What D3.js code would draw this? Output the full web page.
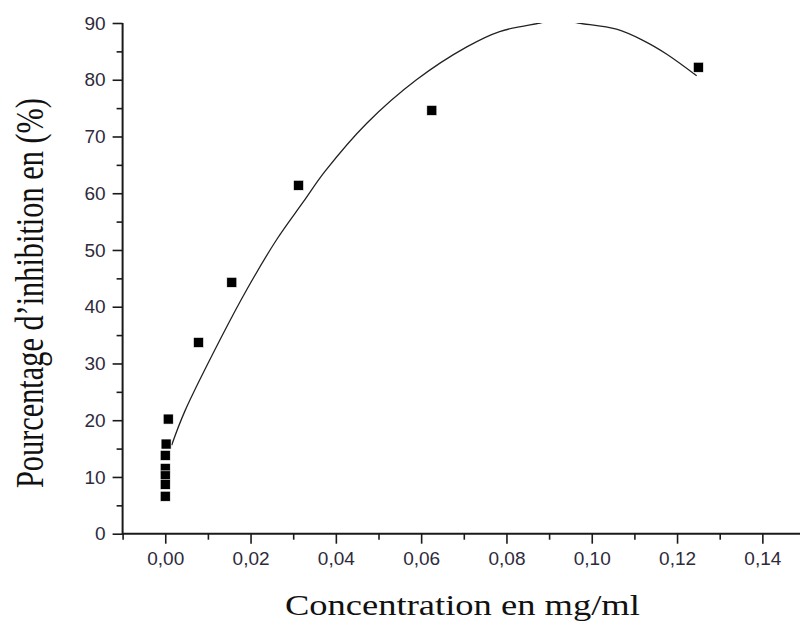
<!DOCTYPE html>
<html>
<head>
<meta charset="utf-8">
<script src="https://cdn.jsdelivr.net/npm/d3@7"></script>
<style>
  body { margin: 0; background: #fff; }
  svg { display: block; }
  .tick text { font-family: 'Liberation Sans', Arial, sans-serif; font-size: 19px; fill: #2e2a3c; }
</style>
</head>
<body>
<div id="chart"></div>
<script>
const svgWidth = 800;
const svgHeight = 623;

// measured points (concentration mg/ml, % inhibition)
const concentration = [0.125, 0.0625, 0.03125, 0.0156, 0.0078, 0.0007, 0.0002, 0, 0, 0, 0, 0];
const inhibition = [82.2, 74.6, 61.4, 44.3, 33.7, 20.2, 15.8, 13.8, 11.5, 10.2, 8.7, 6.6];

// fitted curve (it leaves the frame above 90)
const fitX = [0.0015, 0.0046, 0.0132, 0.0191, 0.0261, 0.0324, 0.0374, 0.0472, 0.0589, 0.0707, 0.0784, 0.0879, 0.0922, 0.0968, 0.1058, 0.1121, 0.1176, 0.1246];
const fitY = [15.6, 21.6, 34.7, 43.0, 51.8, 58.5, 63.8, 72.3, 80.0, 85.8, 88.5, 90.0, 90.6, 90.0, 88.9, 86.9, 84.5, 80.7];

const xMajor = [0, 0.02, 0.04, 0.06, 0.08, 0.10, 0.12, 0.14];
const xMinor = [-0.01, 0.01, 0.03, 0.05, 0.07, 0.09, 0.11, 0.13];
const yMajor = [0, 10, 20, 30, 40, 50, 60, 70, 80, 90];
const yMinor = [5, 15, 25, 35, 45, 55, 65, 75, 85];

const xTitle = "Concentration en mg/ml";
const yTitle = "Pourcentage d\u2019inhibition en (%)";

const svg = d3.select("#chart")
  .append("svg")
    .attr("width", svgWidth)
    .attr("height", svgHeight);

const x = d3.scaleLinear()
  .domain([-0.01, 0.15])
  .range([122.6, 805]);

const y = d3.scaleLinear()
  .domain([0, 90])
  .range([533.7, 23]);

const inkColor = "#1a1a1a";
const commaFmt = d => d3.format(".2f")(d).replace(".", ",");

// x axis: major ticks with labels, minor ticks without
svg.append("g")
  .attr("transform", `translate(0, ${y(0)})`)
  .call(d3.axisBottom(x).tickValues(xMajor).tickSize(10).tickPadding(8).tickFormat(commaFmt))
  .call(g => g.select(".domain").remove())
  .call(g => g.selectAll(".tick line").attr("stroke", inkColor).attr("stroke-width", 1.6));

svg.append("g")
  .attr("transform", `translate(0, ${y(0)})`)
  .call(d3.axisBottom(x).tickValues(xMinor).tickSize(6).tickFormat(""))
  .call(g => g.select(".domain").remove())
  .call(g => g.selectAll(".tick line").attr("stroke", inkColor).attr("stroke-width", 1.6));

// y axis
svg.append("g")
  .attr("transform", `translate(${x(-0.01)}, 0)`)
  .call(d3.axisLeft(y).tickValues(yMajor).tickSize(10).tickPadding(7))
  .call(g => g.select(".domain").remove())
  .call(g => g.selectAll(".tick line").attr("stroke", inkColor).attr("stroke-width", 1.6));

svg.append("g")
  .attr("transform", `translate(${x(-0.01)}, 0)`)
  .call(d3.axisLeft(y).tickValues(yMinor).tickSize(6).tickFormat(""))
  .call(g => g.select(".domain").remove())
  .call(g => g.selectAll(".tick line").attr("stroke", inkColor).attr("stroke-width", 1.6));

// axis lines
svg.append("line")
  .attr("x1", x(-0.01)).attr("x2", x(0.15))
  .attr("y1", y(0)).attr("y2", y(0))
  .attr("stroke", inkColor).attr("stroke-width", 2);
svg.append("line")
  .attr("x1", x(-0.01)).attr("x2", x(-0.01))
  .attr("y1", y(0) + 1).attr("y2", y(90))
  .attr("stroke", inkColor).attr("stroke-width", 2);

// clip the curve to the plot area
svg.append("clipPath")
    .attr("id", "plotClip")
  .append("rect")
    .attr("x", x(-0.01))
    .attr("y", y(90))
    .attr("width", x(0.15) - x(-0.01))
    .attr("height", y(0) - y(90));

const fitPoints = fitX.map((v, i) => [x(v), y(fitY[i])]);
svg.append("path")
  .attr("clip-path", "url(#plotClip)")
  .attr("fill", "none")
  .attr("stroke", "#222")
  .attr("stroke-width", 1.3)
  .attr("d", d3.line().curve(d3.curveCatmullRom.alpha(0.5))(fitPoints));

// square markers
const size = 10;
svg.append("g")
  .selectAll("rect")
  .data(concentration.map((c, i) => ({c: c, v: inhibition[i]})))
  .join("rect")
    .attr("x", d => x(d.c) - size / 2)
    .attr("y", d => y(d.v) - size / 2)
    .attr("width", size)
    .attr("height", size)
    .attr("fill", "#000")
    .attr("stroke", "#fff")
    .attr("stroke-width", 0.6);

// titles: the original glyphs are stretched, so scale each text to its measured length
function stretchedTitle(label, fontSize, tx, ty, angle, length) {
  const t = svg.append("text")
    .attr("font-family", "'Liberation Serif', 'Times New Roman', serif")
    .attr("font-size", fontSize)
    .attr("fill", "#111")
    .text(label);
  const natural = t.node().getComputedTextLength();
  t.attr("transform", `translate(${tx}, ${ty}) rotate(${angle}) scale(${length / natural}, 1)`);
}

stretchedTitle(xTitle, 30, 285, 615, 0, 355);
stretchedTitle(yTitle, 39, 43, 488, -90, 390);
</script>
</body>
</html>
